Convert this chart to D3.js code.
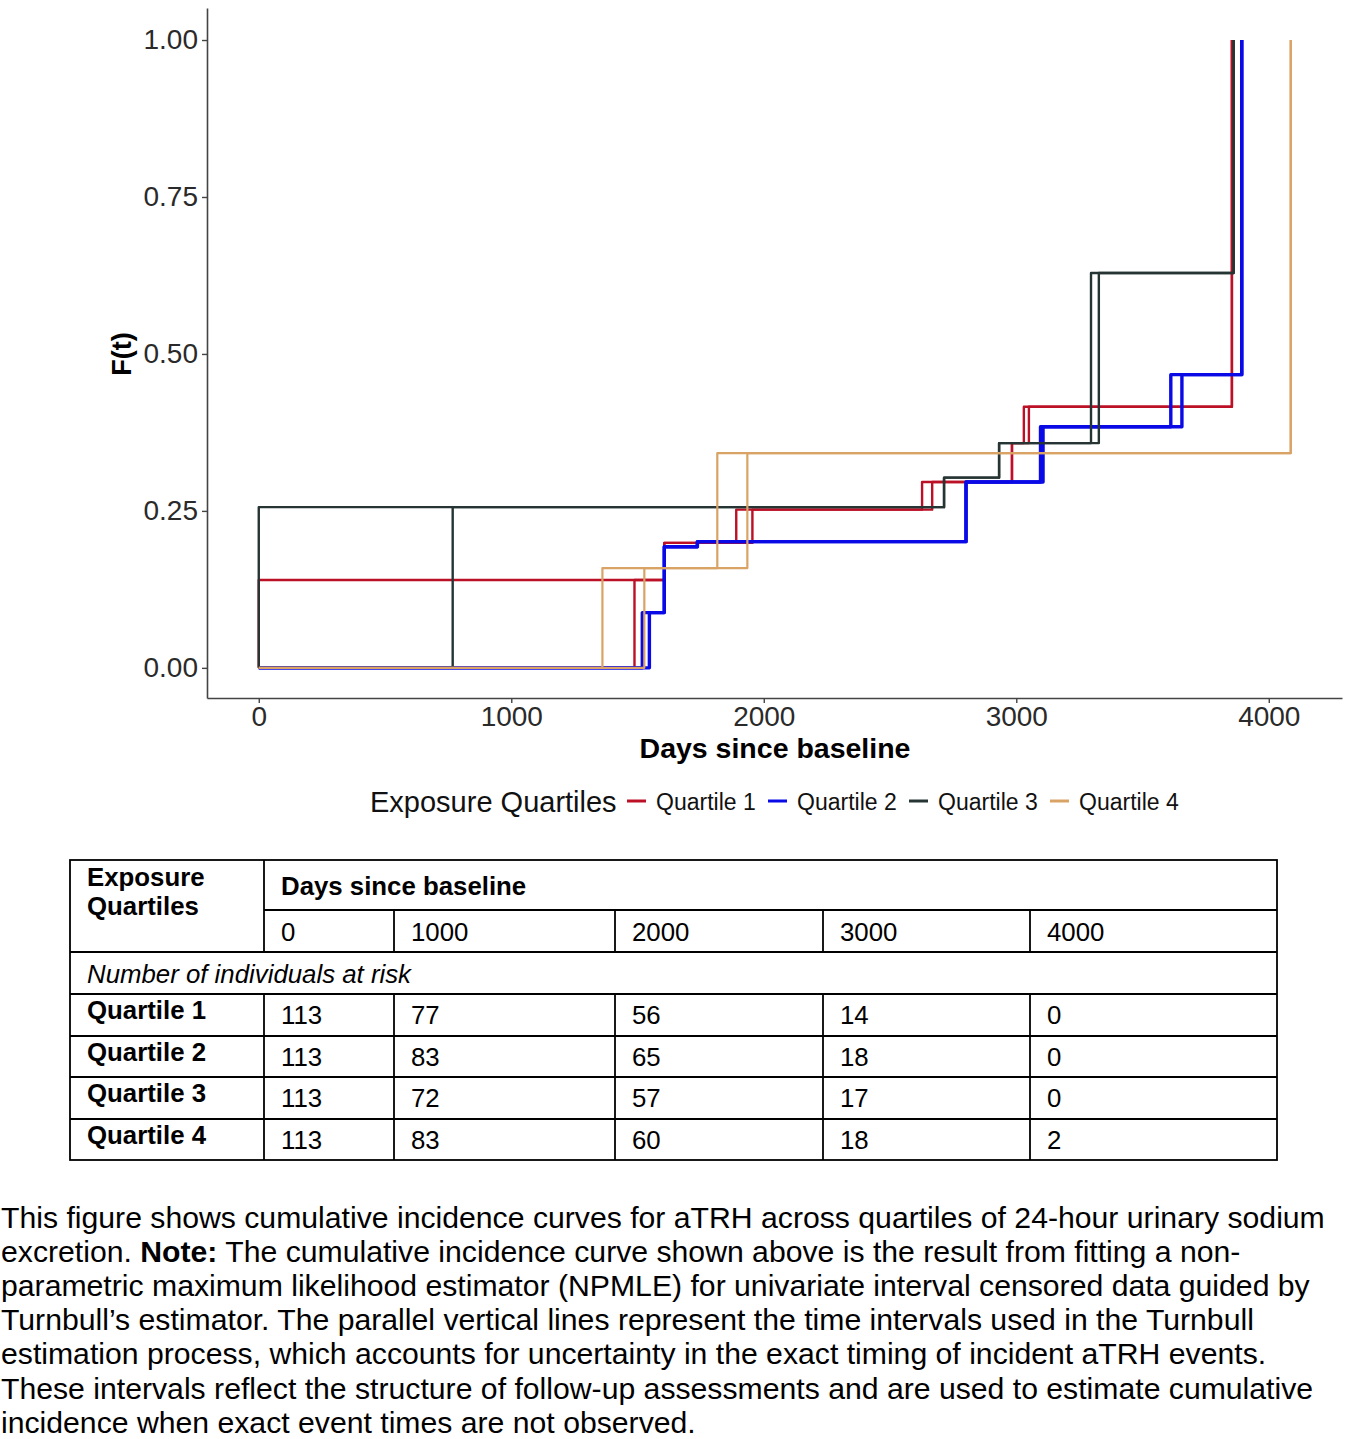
<!DOCTYPE html>
<html><head><meta charset="utf-8">
<script src="https://cdn.jsdelivr.net/npm/d3@7"></script>
<style>
body{margin:0;background:#fff}
svg{display:block}
text{font-family:"Liberation Sans",Arial,Helvetica,sans-serif}
</style>
</head><body>
<svg id="c" width="1350" height="1439"></svg>
<script>
// ---------- data ----------
const quartiles = ["Quartile 1", "Quartile 2", "Quartile 3", "Quartile 4"];
// Turnbull intervals: left end (L), right end (R), cumulative F after the interval
const q1L = [0, 1606, 1891, 2627, 2983, 3030, 3854];
const q1R = [1488, 1606, 1955, 2667, 2983, 3050, 3854];
const q1F = [0.140, 0.199, 0.252, 0.296, 0.358, 0.416, 1.0];

const q2L = [1519, 1606, 1737, 2801, 3096, 3612, 3893];
const q2R = [1547, 1606, 1737, 2801, 3106, 3656, 3893];
const q2F = [0.088, 0.193, 0.201, 0.296, 0.384, 0.467, 1.0];

const q3L = [0, 2714, 2932, 3296, 3861];
const q3R = [768, 2714, 2932, 3327, 3861];
const q3F = [0.256, 0.303, 0.358, 0.629, 1.0];

const q4L = [1361, 1816, 4087];
const q4R = [1527, 1935, 4087];
const q4F = [0.159, 0.342, 1.0];

const xTicks = [0, 1000, 2000, 3000, 4000];
const yTicks = [0, 0.25, 0.50, 0.75, 1.00];

const riskTimes = [0, 1000, 2000, 3000, 4000];
const riskQ1 = [113, 77, 56, 14, 0];
const riskQ2 = [113, 83, 65, 18, 0];
const riskQ3 = [113, 72, 57, 17, 0];
const riskQ4 = [113, 83, 60, 18, 2];

const captionLines = [
  [["This figure shows cumulative incidence curves for aTRH across quartiles of 24-hour urinary sodium", false]],
  [["excretion. ", false], ["Note:", true], [" The cumulative incidence curve shown above is the result from fitting a non-", false]],
  [["parametric maximum likelihood estimator (NPMLE) for univariate interval censored data guided by", false]],
  [["Turnbull\u2019s estimator. The parallel vertical lines represent the time intervals used in the Turnbull", false]],
  [["estimation process, which accounts for uncertainty in the exact timing of incident aTRH events.", false]],
  [["These intervals reflect the structure of follow-up assessments and are used to estimate cumulative", false]],
  [["incidence when exact event times are not observed.", false]]
];

// ---------- styles ----------
const colors = ["#BC1026", "#0a0ae6", "#263434", "#D9A366"];
const widths = [2.4, 3.4, 2.4, 2.2];
const series = [[q1L, q1R, q1F], [q2L, q2R, q2F], [q3L, q3R, q3F], [q4L, q4R, q4F]];

const svg = d3.select("#c");

// ---------- scales ----------
const x = d3.scaleLinear().domain([-205, 4290]).range([207, 1342]);
const y = d3.scaleLinear().domain([-0.048, 1.051]).range([698, 8]);

// axes
const yAxis = d3.axisLeft(y).tickValues(yTicks).tickFormat(d3.format(".2f")).tickSizeInner(5).tickSizeOuter(0).tickPadding(4);
const xAxis = d3.axisBottom(x).tickValues(xTicks).tickFormat(d3.format("d")).tickSizeInner(5).tickSizeOuter(0).tickPadding(3);

const gy = svg.append("g").attr("transform", "translate(207,0)").call(yAxis);
const gx = svg.append("g").attr("transform", "translate(0,698)").call(xAxis);
[gx, gy].forEach(g => {
  g.select(".domain").attr("stroke", "#444").attr("stroke-width", 1.6);
  g.selectAll(".tick line").attr("stroke", "#444").attr("stroke-width", 1.4);
  g.selectAll(".tick text").attr("fill", "#2a2a2a").attr("font-size", 28).style("font-family", '"Liberation Sans",Arial,sans-serif');
});

// curves
const line = d3.line().x(d => x(d[0])).y(d => y(d[1])).curve(d3.curveStepAfter);
function stepPts(times, F) {
  const pts = [[0, 0]];
  times.forEach((t, i) => pts.push([t, F[i]]));
  return pts;
}
series.forEach((s, k) => {
  const g = svg.append("g");
  [s[0], s[1]].forEach(times => {
    g.append("path")
      .attr("d", line(stepPts(times, s[2])))
      .attr("fill", "none")
      .attr("stroke", colors[k])
      .attr("stroke-width", widths[k])
      .attr("stroke-linejoin", "round");
  });
});

// axis titles
svg.append("text").attr("x", 775).attr("y", 758).attr("text-anchor", "middle")
  .attr("font-size", 28.5).attr("font-weight", "bold").attr("fill", "#000").text("Days since baseline");
svg.append("text").attr("transform", "translate(131,354) rotate(-90)").attr("text-anchor", "middle")
  .attr("font-size", 27).attr("font-weight", "bold").attr("fill", "#000").text("F(t)");

// legend
svg.append("text").attr("x", 370).attr("y", 812).attr("font-size", 29).attr("fill", "#111").text("Exposure Quartiles");
const legX = [627, 768, 909, 1050];
quartiles.forEach((q, i) => {
  svg.append("line").attr("x1", legX[i]).attr("x2", legX[i] + 19).attr("y1", 801).attr("y2", 801)
    .attr("stroke", colors[i]).attr("stroke-width", 3);
  svg.append("text").attr("x", legX[i] + 29).attr("y", 810).attr("font-size", 23)
    .attr("fill", "#111").text(q);
});

// ---------- table ----------
const colX = [70, 264, 394, 615, 823, 1030, 1277];
const rowY = [860, 910, 952, 994, 1036, 1077, 1119, 1160];
const tb = svg.append("g").attr("stroke", "#000").attr("stroke-width", 1.8);
tb.append("rect").attr("x", colX[0]).attr("y", rowY[0]).attr("width", colX[6] - colX[0]).attr("height", rowY[7] - rowY[0]).attr("fill", "none");
tb.append("line").attr("x1", colX[1]).attr("x2", colX[1]).attr("y1", rowY[0]).attr("y2", rowY[2]);
tb.append("line").attr("x1", colX[1]).attr("x2", colX[6]).attr("y1", rowY[1]).attr("y2", rowY[1]);
colX.slice(2, 6).forEach(cx => tb.append("line").attr("x1", cx).attr("x2", cx).attr("y1", rowY[1]).attr("y2", rowY[2]));
rowY.slice(2, 7).forEach(ry => tb.append("line").attr("x1", colX[0]).attr("x2", colX[6]).attr("y1", ry).attr("y2", ry));
colX.slice(1, 6).forEach(cx => tb.append("line").attr("x1", cx).attr("x2", cx).attr("y1", rowY[3]).attr("y2", rowY[7]));

const tfs = 25.8;
svg.append("text").attr("x", 87).attr("y", 886).attr("font-size", tfs).attr("font-weight", "bold").text("Exposure");
svg.append("text").attr("x", 87).attr("y", 915).attr("font-size", tfs).attr("font-weight", "bold").text("Quartiles");
svg.append("text").attr("x", 281).attr("y", 895).attr("font-size", tfs).attr("font-weight", "bold").text("Days since baseline");
riskTimes.forEach((t, i) => {
  svg.append("text").attr("x", colX[i + 1] + 17).attr("y", 941).attr("font-size", tfs).text(t);
});
svg.append("text").attr("x", 87).attr("y", 983).attr("font-size", tfs).attr("font-style", "italic").text("Number of individuals at risk");
[riskQ1, riskQ2, riskQ3, riskQ4].forEach((vals, r) => {
  const top = rowY[3 + r];
  svg.append("text").attr("x", 87).attr("y", top + 25).attr("font-size", tfs).attr("font-weight", "bold").text(quartiles[r]);
  vals.forEach((v, i) => {
    svg.append("text").attr("x", colX[i + 1] + 17).attr("y", top + 30).attr("font-size", tfs).text(v);
  });
});

// ---------- caption ----------
const capY0 = 1228, capDy = 34.1;
captionLines.forEach((parts, i) => {
  const t = svg.append("text").attr("x", 1).attr("y", capY0 + i * capDy).attr("font-size", 30.2).attr("fill", "#000");
  parts.forEach(p => t.append("tspan").attr("font-weight", p[1] ? "bold" : "normal").text(p[0]));
});
</script>
</body></html>
